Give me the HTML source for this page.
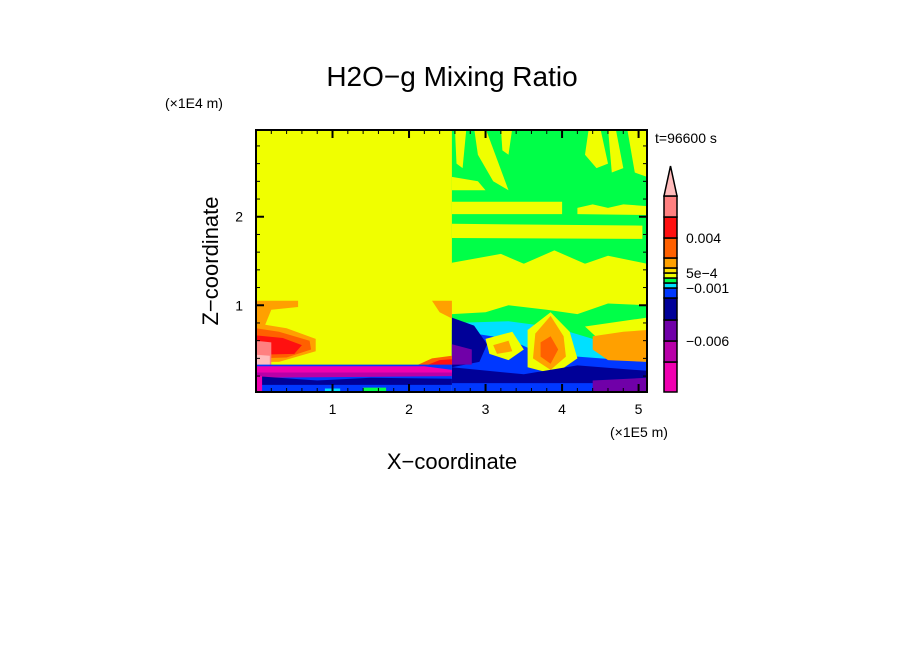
<!DOCTYPE html>
<html><head><meta charset="utf-8">
<style>
html,body{margin:0;padding:0;background:#fff;}
svg{display:block;font-family:"Liberation Sans","DejaVu Sans",sans-serif;}
</style></head>
<body>
<svg id="chart" width="904" height="654" viewBox="0 0 904 654" xmlns="http://www.w3.org/2000/svg">
<rect width="904" height="654" fill="#fff"/>
<text x="452" y="86" font-size="28" text-anchor="middle">H2O−g Mixing Ratio</text>
<text x="165" y="108" font-size="14">(×1E4 m)</text>
<text x="655" y="143" font-size="14">t=96600 s</text>
<text x="610" y="437" font-size="14">(×1E5 m)</text>
<text x="452" y="469" font-size="22" text-anchor="middle">X−coordinate</text>
<text transform="translate(218,261) rotate(-90)" font-size="22" text-anchor="middle">Z−coordinate</text>
<defs><clipPath id="pc"><rect x="256" y="130" width="391" height="262"/></clipPath></defs>
<g id="field" clip-path="url(#pc)"></g>
<g id="axes"></g>
<g id="cbar"></g>
</svg>
<script>
const xTicks=[1,2,3,4,5];
const yTicks=[1,2];
const xDomain=[0,5.11];
const zDomain=[0.02,2.98];
const levelColors=['#f000b0','#b800a8','#7000a8','#000098','#0038ff','#00e0ff','#00ff48','#f0ff00','#ffe000','#ffa000','#ff6000','#ff1010','#ff8080'];
const cbarLabels=['-0.006','-0.001','5e-4','0.004'];
const cbarLabelLevels=[2.0,5.0,8.0,11.0];
// contour regions: [levelIndex, [[x,z],...]]
const regions=[
[7,[[0,0],[5.11,0],[5.11,3],[0,3]]],
[6,[[2.56,1.47],[5.11,1.47],[5.11,3],[2.56,3]]],
[7,[[2.6,3],[2.75,3],[2.7,2.55],[2.62,2.6]]],
[7,[[2.85,3],[3.0,3],[3.3,2.3],[3.1,2.4],[2.9,2.7]]],
[7,[[3.2,3],[3.35,3],[3.3,2.7],[3.22,2.75]]],
[7,[[2.56,2.45],[2.9,2.4],[3.0,2.3],[2.56,2.3]]],
[7,[[4.35,3],[4.5,3],[4.6,2.6],[4.45,2.55],[4.3,2.7]]],
[7,[[4.6,3],[4.7,3],[4.8,2.55],[4.65,2.5]]],
[7,[[4.85,3],[5.11,3],[5.11,2.45],[4.95,2.5]]],
[7,[[2.56,2.17],[4.0,2.17],[4.0,2.03],[2.56,2.03]]],
[7,[[4.2,2.1],[4.4,2.14],[4.6,2.1],[4.8,2.14],[5.11,2.12],[5.11,2.02],[4.2,2.03]]],
[7,[[2.56,1.92],[5.05,1.9],[5.05,1.75],[2.56,1.76]]],
[7,[[2.56,1.48],[3.2,1.58],[3.5,1.47],[3.9,1.62],[4.3,1.47],[4.6,1.56],[5.11,1.47],[5.11,1.2],[2.56,1.2]]],
[6,[[2.56,0.9],[3.0,0.92],[3.3,1.0],[3.8,0.95],[4.2,0.9],[4.6,1.02],[5.11,1.0],[5.11,0.1],[2.56,0.1]]],
[5,[[2.56,0.8],[3.3,0.82],[3.9,0.75],[4.4,0.62],[5.11,0.58],[5.11,0.05],[2.56,0.05]]],
[4,[[2.56,0.72],[3.3,0.62],[3.6,0.5],[4.2,0.42],[5.11,0.36],[5.11,0],[2.56,0]]],
[3,[[2.56,0.86],[2.85,0.77],[3.02,0.56],[2.92,0.36],[2.56,0.3]]],
[2,[[2.56,0.56],[2.82,0.5],[2.82,0.33],[2.56,0.33]]],
[7,[[3.0,0.62],[3.35,0.7],[3.5,0.5],[3.3,0.38],[3.05,0.45]]],
[9,[[3.1,0.55],[3.3,0.6],[3.35,0.48],[3.15,0.45]]],
[7,[[3.55,0.72],[3.85,0.92],[4.1,0.7],[4.2,0.4],[3.9,0.22],[3.55,0.3]]],
[9,[[3.65,0.68],[3.85,0.88],[4.02,0.65],[4.05,0.42],[3.85,0.27],[3.62,0.4]]],
[10,[[3.72,0.58],[3.85,0.65],[3.95,0.5],[3.85,0.34],[3.72,0.42]]],
[7,[[4.3,0.76],[5.11,0.86],[5.11,0.62],[4.5,0.6]]],
[9,[[4.4,0.65],[4.8,0.7],[5.11,0.72],[5.11,0.36],[4.6,0.38],[4.4,0.5]]],
[3,[[2.56,0.3],[3.5,0.22],[4.2,0.32],[5.11,0.26],[5.11,0.12],[2.56,0.12]]],
[2,[[4.4,0.15],[5.11,0.18],[5.11,0.02],[4.4,0.02]]],
[9,[[0,1.05],[0.55,1.05],[0.55,0.98],[0.2,0.95],[0.12,0.78],[0.4,0.74],[0.78,0.62],[0.78,0.48],[0.3,0.36],[0,0.36]]],
[10,[[0,0.74],[0.3,0.7],[0.7,0.6],[0.72,0.5],[0.4,0.41],[0,0.4]]],
[11,[[0,0.66],[0.35,0.63],[0.6,0.55],[0.5,0.45],[0,0.44]]],
[12,[[0,0.6],[0.2,0.58],[0.2,0.3],[0,0.3]]],
[13,[[0,0.44],[0.18,0.43],[0.18,0.3],[0,0.3]]],
[9,[[2.3,1.05],[2.56,1.05],[2.56,0.85],[2.4,0.92]]],
[10,[[2.1,0.32],[2.3,0.4],[2.56,0.43],[2.56,0.3]]],
[11,[[2.25,0.33],[2.4,0.38],[2.56,0.39],[2.56,0.32]]],
[4,[[0,0.33],[2.56,0.33],[2.56,0],[0,0]]],
[0,[[0,0.31],[2.2,0.31],[2.56,0.27],[2.56,0.22],[0,0.2]]],
[1,[[0,0.24],[2.56,0.24],[2.56,0.2],[0,0.18]]],
[3,[[0,0.2],[0.8,0.15],[1.5,0.18],[2.56,0.17],[2.56,0.1],[0,0.1]]],
[0,[[0,0.2],[0.08,0.2],[0.08,0],[0,0]]],
[5,[[0.9,0.06],[1.1,0.06],[1.1,0.02],[0.9,0.02]]],
[6,[[1.4,0.07],[1.7,0.07],[1.7,0.02],[1.4,0.02]]]
];
const extraColor='#ffbbbb';
const NS='http://www.w3.org/2000/svg';
const X0=256,X1=647,Y0=130,Y1=392;
function sx(v){return X0+(v-xDomain[0])/(xDomain[1]-xDomain[0])*(X1-X0);}
function sz(v){return Y1-(v-zDomain[0])/(zDomain[1]-zDomain[0])*(Y1-Y0);}
function mk(tag,attrs,parent){const e=document.createElementNS(NS,tag);for(const k in attrs)e.setAttribute(k,attrs[k]);parent.appendChild(e);return e;}
const field=document.getElementById('field');
regions.forEach((r,i)=>{
  const col=r[0]<levelColors.length?levelColors[r[0]]:extraColor;
  const p=mk('polygon',{points:r[1].map(q=>sx(q[0]).toFixed(1)+','+sz(q[1]).toFixed(1)).join(' '),fill:col},field);
  
  
});
const axes=document.getElementById('axes');
const frame=mk('rect',{x:X0,y:Y0,width:X1-X0,height:Y1-Y0,fill:'none',stroke:'#000','stroke-width':2},axes);


for(let v=0.2;v<xDomain[1];v+=0.2){
  const major=Math.abs(v-Math.round(v))<1e-6;const L=major?8:4;const x=sx(v);
  const t1=mk('line',{x1:x,x2:x,y1:Y1,y2:Y1-L,stroke:'#000','stroke-width':major?2:1},axes);
  
  
  const t2=mk('line',{x1:x,x2:x,y1:Y0,y2:Y0+L,stroke:'#000','stroke-width':major?2:1},axes);
  
  
}
for(let v=0.2;v<zDomain[1];v+=0.2){
  const major=Math.abs(v-Math.round(v))<1e-6;const L=major?8:4;const y=sz(v);
  const t1=mk('line',{x1:X0,x2:X0+L,y1:y,y2:y,stroke:'#000','stroke-width':major?2:1},axes);
  
  
  const t2=mk('line',{x1:X1,x2:X1-L,y1:y,y2:y,stroke:'#000','stroke-width':major?2:1},axes);
  
  
}
xTicks.forEach(v=>{const t=mk('text',{x:sx(v),y:414,'font-size':14,'text-anchor':'middle'},axes);t.textContent=v;
  
  });
yTicks.forEach(v=>{const t=mk('text',{x:243,y:sz(v)+5,'font-size':14,'text-anchor':'end'},axes);t.textContent=v;
  
  });
// colorbar
const cb=document.getElementById('cbar');
const CB0=664,CB1=677,CBtop=196,CBbot=392;
const bounds=[392,362,341,320,298,288,283,278,273,268,258,238,217,196];
function cbY(level){const i=Math.floor(level);const f=level-i;return bounds[i]+(bounds[Math.min(i+1,13)]-bounds[i])*f;}
for(let i=0;i<levelColors.length;i++){
  const r=mk('rect',{x:CB0,y:bounds[i+1],width:CB1-CB0,height:bounds[i]-bounds[i+1],fill:levelColors[i],stroke:'#000','stroke-width':1.5},cb);
  
  
}
const tri=mk('polygon',{points:`${CB0},${CBtop} ${CB1},${CBtop} ${(CB0+CB1)/2},166`,fill:extraColor,stroke:'#000','stroke-width':1.5},cb);


cbarLabels.forEach((s,i)=>{const t=mk('text',{x:686,y:cbY(cbarLabelLevels[i])+5,'font-size':14},cb);t.textContent=s.replace('-','−');
  
  });
</script>
</body></html>
